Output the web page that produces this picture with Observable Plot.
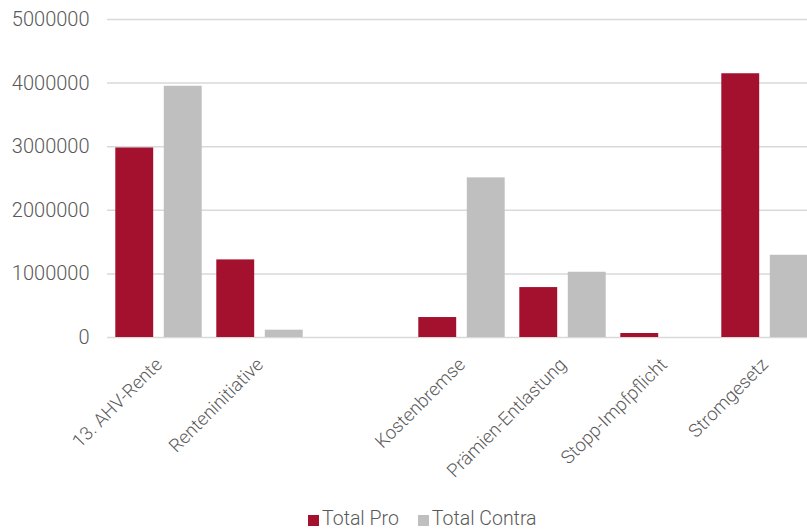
<!DOCTYPE html>
<html>
<head>
<meta charset="utf-8">
<script src="https://cdn.jsdelivr.net/npm/d3@7"></script>
<script src="https://cdn.jsdelivr.net/npm/@observablehq/plot@0.6"></script>
<style>
  html, body { margin: 0; padding: 0; background: #fff; }
  #wrap { position: relative; width: 807px; height: 529px; overflow: hidden; background: #fff; font-family: Roboto, "Noto Sans", sans-serif; }
  #chart { position: absolute; left: 0; top: 0; width: 815px; }
  #chart svg { max-width: none !important; }
  #legend { position: absolute; left: 308px; top: 509px; height: 20px; line-height: 20px; display: flex; align-items: center; font-size: 19.5px; color: #595959; font-weight: 300; }
  .item { display: flex; align-items: center; margin-right: 19px; }
  .sw { width: 11px; height: 11px; margin-right: 3px; margin-top: 2px; }
</style>
</head>
<body>
<div id="wrap">
  <div id="chart"></div>
  <div id="legend"></div>
</div>
<script>
const categories = ["13. AHV-Rente", "Renteninitiative", "", "Kostenbremse", "Prämien-Entlastung", "Stopp-Impfpflicht", "Stromgesetz"];
const totalPro = [2980000, 1220000, null, 314000, 785000, 63000, 4147000];
const totalContra = [3950000, 115000, null, 2510000, 1026000, 0, 1293000];
const yTicks = [0, 1000000, 2000000, 3000000, 4000000, 5000000];
const seriesNames = ["Total Pro", "Total Contra"];
const seriesColors = ["#A3112F", "#BFBFBF"];

const rows = categories.map((c, i) => ({cat: c, pro: totalPro[i], contra: totalContra[i]}));

const chart = Plot.plot({
  width: 815,
  height: 490,
  marginLeft: 107,
  marginRight: 0,
  marginTop: 19,
  marginBottom: 153,
  x: {domain: categories, padding: 0},
  y: {domain: [0, 5000000]},
  style: {fontFamily: "Roboto, 'Noto Sans', sans-serif", color: "#595959", background: "white", overflow: "visible", maxWidth: "none"},
  marks: [
    Plot.gridY(yTicks, {stroke: "#d9d9d9", strokeOpacity: 1, strokeWidth: 1.5}),
    Plot.barY(rows.filter(d => d.pro != null), {x: "cat", y: "pro", fill: seriesColors[0], insetLeft: 7.3, insetRight: 55.8}),
    Plot.barY(rows.filter(d => d.contra != null), {x: "cat", y: "contra", fill: seriesColors[1], insetLeft: 55.8, insetRight: 7.3}),
    Plot.axisY({ticks: yTicks, tickFormat: d => String(d), tickSize: 0, tickPadding: 18, fontSize: 20, fontWeight: 300, label: null}),
    Plot.axisX({tickRotate: -45, tickSize: 0, tickPadding: 24, fontSize: 18.5, fontWeight: 300, label: null})
  ]
});
document.getElementById("chart").appendChild(chart);

const legend = document.getElementById("legend");
seriesNames.forEach((n, i) => {
  const it = document.createElement("div");
  it.className = "item";
  const sw = document.createElement("span");
  sw.className = "sw";
  sw.style.background = seriesColors[i];
  const t = document.createElement("span");
  t.textContent = n;
  it.appendChild(sw);
  it.appendChild(t);
  legend.appendChild(it);
});
</script>
</body>
</html>
